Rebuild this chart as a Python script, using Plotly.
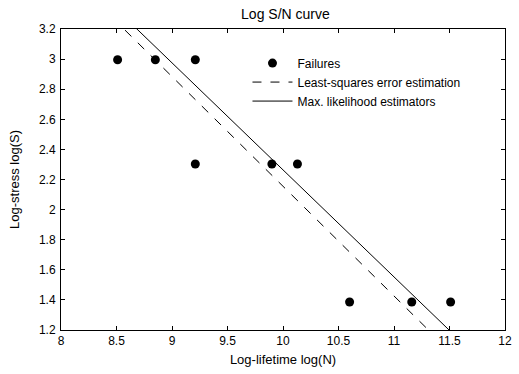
import plotly.graph_objects as go
import numpy as np

# Data (natural-log values)
fail_logN = [8.51, 8.85, 9.21, 9.21, 9.90, 10.13, 10.60, 11.16, 11.51]
fail_logS = [2.996, 2.996, 2.996, 2.303, 2.303, 2.303, 1.386, 1.386, 1.386]

# Fitted lines: logS = a + b * logN
ls_a, ls_b = 9.444, -0.7289     # least-squares
ml_a, ml_b = 9.376, -0.7112     # max likelihood

x_range = [8, 12]
y_range = [1.2, 3.2]
x_ticks = [8, 8.5, 9, 9.5, 10, 10.5, 11, 11.5, 12]
y_ticks = [1.2, 1.4, 1.6, 1.8, 2, 2.2, 2.4, 2.6, 2.8, 3, 3.2]

xl = np.array(x_range, dtype=float)

fig = go.Figure()
fig.add_trace(go.Scatter(x=fail_logN, y=fail_logS, mode="markers", name="Failures",
                         marker=dict(color="black", size=9)))
fig.add_trace(go.Scatter(x=xl, y=ls_a + ls_b * xl, mode="lines",
                         name="Least-squares error estimation",
                         line=dict(color="black", width=1, dash="dash")))
fig.add_trace(go.Scatter(x=xl, y=ml_a + ml_b * xl, mode="lines",
                         name="Max. likelihood estimators",
                         line=dict(color="black", width=1)))

axis_common = dict(showgrid=False, zeroline=False, showline=True, linecolor="black",
                   linewidth=1, mirror="ticks", ticks="inside", ticklen=4,
                   tickcolor="black", tickfont=dict(size=12, color="black"),
                   ticklabeloverflow="allow")

fig.update_layout(
    width=519, height=374,
    margin=dict(l=61, r=7, t=29, b=44),
    paper_bgcolor="white", plot_bgcolor="white",
    font=dict(family="Liberation Sans, Arial, sans-serif", size=12, color="black"),
    title=dict(text="Log S/N curve", x=0.55, xanchor="center", y=0.963, yanchor="middle",
               font=dict(size=14)),
    showlegend=True,
    legend=dict(x=0.42, y=0.935, xanchor="left", yanchor="top", bgcolor="rgba(0,0,0,0)",
                font=dict(size=12), tracegroupgap=0, itemwidth=40),
    xaxis=dict(range=x_range, tickvals=x_ticks, ticktext=[f"{v:g}" for v in x_ticks],
               title=dict(text="Log-lifetime log(N)", font=dict(size=13), standoff=7),
               ticklabelstandoff=0, **axis_common),
    yaxis=dict(range=y_range, tickvals=y_ticks, ticktext=[f"{v:g}" for v in y_ticks],
               title=dict(text="Log-stress log(S)", font=dict(size=13), standoff=16),
               ticklabelstandoff=2, **axis_common),
)

fig.write_html("out.html")
